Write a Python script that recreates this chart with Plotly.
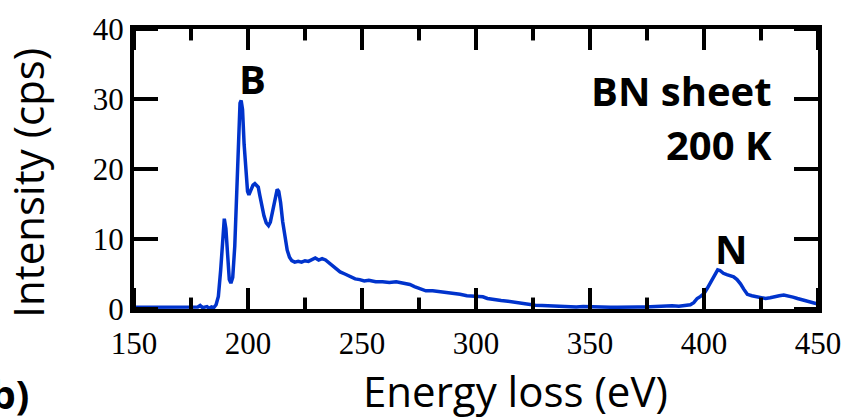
import plotly.graph_objects as go

# spectrum (energy in eV, intensity in cps)
energy = [150, 160, 170, 176, 178, 179, 180, 182, 183, 184, 185, 186, 187, 188, 189,
          189.6, 190.3, 191, 191.8, 192.5, 193.3, 194.2, 195, 195.8, 196.5, 197, 197.6,
          198.3, 199, 199.8, 200.4, 201.2, 202.2, 203, 203.8, 204.5, 205.2, 206, 207,
          208, 209, 209.8, 210.8, 211.8, 212.8, 213.5, 214.3, 215.2, 216.2, 217.2,
          218.2, 219.2, 220.5, 222, 223.5, 225, 226.5, 228, 229.5, 231, 232.5, 234,
          236, 238, 240.4, 242.5, 245, 247, 249, 251, 253, 256, 259, 262, 265, 267,
          269, 271, 273, 275, 278, 281, 284, 287, 290, 293, 296, 299, 301, 303, 305,
          308, 311, 314, 317, 320, 323, 326, 329, 332, 335, 338, 341, 344, 347, 350,
          353, 356, 359, 362, 365, 368, 371, 374, 377, 380, 383, 386, 389, 392, 394,
          395.5, 397, 398.5, 400, 401.5, 403, 404.5, 406, 407, 408.5, 410, 411.5, 413,
          414.5, 416, 417.5, 419, 421, 423, 425, 427, 429, 431, 433, 435, 437, 439,
          441, 443, 445, 447, 449, 450]
intensity = [0.25, 0.25, 0.25, 0.25, 0.3, 0.5, 0.2, 0.35, 0.1, 0.3, 0.2, 0.6, 1.8, 5.5, 10.5,
             12.9, 11.5, 7.0, 4.2, 3.7, 4.5, 9.0, 17.0, 25.0, 29.4, 29.8, 28.5,
             23.5, 19.5, 16.8, 16.3, 17.0, 17.7, 17.9, 17.6, 17.4, 16.2, 14.6, 13.3,
             12.3, 11.9, 12.4, 14.0, 16.1, 17.1, 16.8, 15.2, 12.5, 10.0, 8.4,
             7.4, 6.9, 6.7, 6.8, 6.7, 6.9, 6.8, 7.1, 7.3, 7.0, 7.2, 7.0,
             6.5, 6.0, 5.3, 5.0, 4.6, 4.3, 4.2, 4.0, 4.1, 3.9, 3.9, 3.8, 3.9, 3.8,
             3.6, 3.5, 3.2, 3.0, 2.6, 2.6, 2.5, 2.4, 2.2, 2.1, 1.9, 1.8, 1.7, 1.75, 1.5,
             1.3, 1.2, 1.1, 0.95, 0.8, 0.6, 0.55, 0.5, 0.45, 0.4, 0.4, 0.35, 0.3, 0.35, 0.3,
             0.25, 0.3, 0.25, 0.25, 0.3, 0.25, 0.3, 0.3, 0.35, 0.3, 0.4, 0.45, 0.4, 0.5, 0.6,
             0.9, 1.5, 1.8, 2.2, 3.0, 3.8, 4.8, 5.6, 5.5, 5.1, 4.9, 4.8, 4.6,
             4.2, 3.6, 2.8, 2.1, 1.9, 1.8, 1.6, 1.5, 1.6, 1.8, 1.9, 2.0, 1.9, 1.7,
             1.5, 1.3, 1.2, 1.0, 0.8, 0.8]

x_major = [150, 200, 250, 300, 350, 400, 450]
x_minor = [175, 225, 275, 325, 375, 425]
y_major = [0, 10, 20, 30, 40]

W, H = 861, 420
margin = dict(l=134, r=43, t=16, b=111)
plot_w = W - margin["l"] - margin["r"]
plot_h = H - margin["t"] - margin["b"]
x_lo, x_hi = x_major[0], x_major[-1]
y_lo, y_hi = y_major[0], y_major[-1]

# tick lengths in pixels, turned into axis units
per_px_x = (x_hi - x_lo) / plot_w
per_px_y = (y_hi - y_lo) / plot_h
major_len = 22 * per_px_y
minor_len = 12 * per_px_y
ytick_len = 24 * per_px_x

fig = go.Figure()
fig.add_trace(go.Scatter(x=energy, y=intensity, mode="lines",
                         line=dict(color="#0033cc", width=3.5), showlegend=False))

# inward tick marks on all four sides
tx, ty = [], []
for v, ln in [(v, major_len) for v in x_major] + [(v, minor_len) for v in x_minor]:
    tx += [v, v, None, v, v, None]
    ty += [y_lo, y_lo + ln, None, y_hi, y_hi - ln, None]
for v in y_major:
    tx += [x_lo, x_lo + ytick_len, None, x_hi, x_hi - ytick_len, None]
    ty += [v, v, None, v, v, None]
fig.add_trace(go.Scatter(x=tx, y=ty, mode="lines", line=dict(color="black", width=4),
                         hoverinfo="skip", showlegend=False))

serif = dict(family="Liberation Serif", size=31, color="black")
sans = "Open Sans"
frame = dict(showgrid=False, zeroline=False, showline=True, linewidth=4,
             linecolor="black", mirror=True, ticks="", tickfont=serif,
             ticklabeloverflow="allow")

fig.update_xaxes(range=[x_lo, x_hi], tickvals=x_major, ticklabelstandoff=4, **frame)
fig.update_yaxes(range=[y_lo, y_hi], tickvals=y_major, ticksuffix=" ", **frame)

bold = dict(family=sans, size=40, color="black", weight="bold")
fig.add_annotation(x=201.8, y=33.0, text="<b>B</b>", showarrow=False, font=bold,
                   xanchor="center", yanchor="middle")
fig.add_annotation(x=430.6, y=31.2, text="<b>BN sheet</b>", showarrow=False, font=bold,
                   xanchor="right", yanchor="middle")
fig.add_annotation(x=430.6, y=23.5, text="<b>200 K</b>", showarrow=False, font=bold,
                   xanchor="right", yanchor="middle")
fig.add_annotation(x=412.0, y=8.6, text="<b>N</b>", showarrow=False, font=bold,
                   xanchor="center", yanchor="middle")
fig.add_annotation(xref="paper", yref="paper", x=-0.151, y=-0.303, text="<b>(b)</b>",
                   showarrow=False, font=bold, xanchor="right", yanchor="middle")

title_font = dict(family=sans, size=42, color="black")
fig.add_annotation(xref="paper", yref="paper", x=0.558, y=-0.292,
                   text="Energy loss (eV)", showarrow=False, font=title_font,
                   xanchor="center", yanchor="middle")
fig.add_annotation(xref="paper", yref="paper", x=-0.155, y=0.451,
                   text="Intensity (cps)", showarrow=False, font=title_font,
                   textangle=-90, xanchor="center", yanchor="middle")

fig.update_layout(width=W, height=H, plot_bgcolor="white", paper_bgcolor="white",
                  margin=margin)
fig.write_html("out.html", config={"displayModeBar": False},
               post_script="document.body.style.margin='0';")
